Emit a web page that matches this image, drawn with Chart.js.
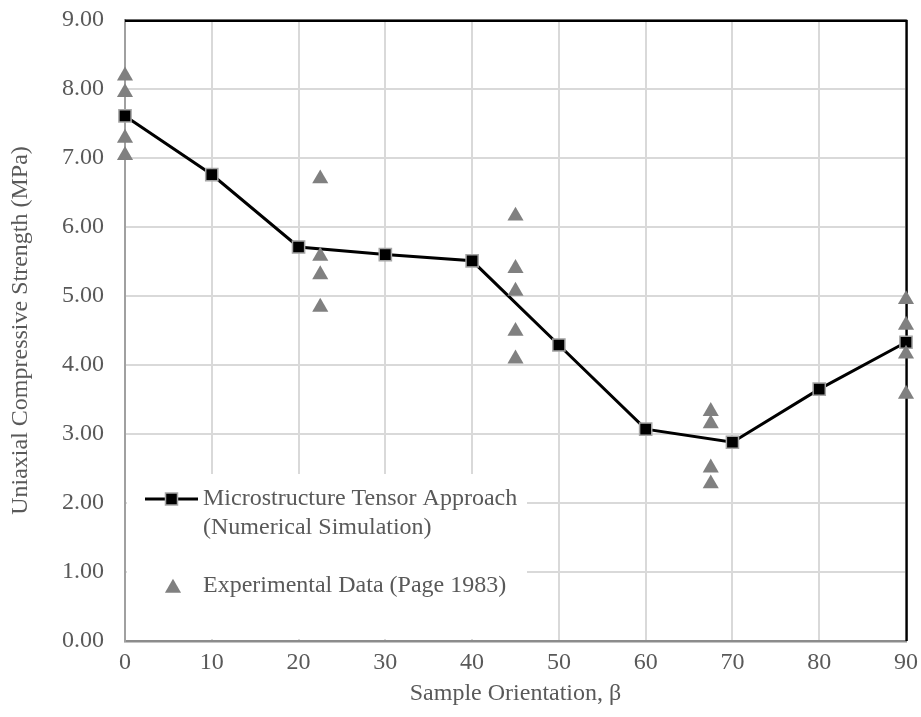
<!DOCTYPE html>
<html>
<head>
<meta charset="utf-8">
<script src="https://cdn.jsdelivr.net/npm/chart.js@4.4.1/dist/chart.umd.min.js"></script>
<style>
  html, body { margin: 0; padding: 0; background: #ffffff; }
  canvas { display: block; }
</style>
</head>
<body>
<canvas id="chart" width="921" height="717"></canvas>
<script>
// Numerical simulation (microstructure tensor approach)
const orientations = [0, 10, 20, 30, 40, 50, 60, 70, 80, 90];
const tensorStrength = [7.61, 6.76, 5.71, 5.60, 5.51, 4.29, 3.07, 2.88, 3.65, 4.33];

// Laboratory measurements (Page 1983)
const expOrientation = [0, 0, 0, 0, 22.5, 22.5, 22.5, 22.5, 45, 45, 45, 45, 45, 67.5, 67.5, 67.5, 67.5, 90, 90, 90, 90];
const expStrength = [8.19, 7.95, 7.29, 7.04, 6.70, 5.58, 5.31, 4.84, 6.16, 5.40, 5.07, 4.49, 4.09, 3.33, 3.15, 2.51, 2.28, 4.95, 4.58, 4.16, 3.58];

// Axis ticks
const xTicks = [0, 10, 20, 30, 40, 50, 60, 70, 80, 90];
const yTicks = [0, 1, 2, 3, 4, 5, 6, 7, 8, 9];

// Legend entries
const seriesNames = ['Microstructure Tensor Approach (Numerical Simulation)', 'Experimental Data (Page 1983)'];
const legendLines = [['Microstructure Tensor Approach', '(Numerical Simulation)'], ['Experimental Data (Page 1983)']];

const FONT = "'Liberation Serif', 'Times New Roman', Times, serif";
const TEXT = '#595959';
const GRID = '#d9d9d9';

const tensorPoints = orientations.map((x, i) => ({ x, y: tensorStrength[i] }));
const expPoints = expOrientation.map((x, i) => ({ x, y: expStrength[i] }));

// Black frame on the top and right edges of the plot
const framePlugin = {
  id: 'frame',
  beforeDatasetsDraw(chart) {
    const { ctx, chartArea: a } = chart;
    ctx.save();
    ctx.strokeStyle = '#000000';
    ctx.lineWidth = 2.4;
    ctx.beginPath();
    ctx.moveTo(a.left, a.top + 0.8);
    ctx.lineTo(a.right + 1.2, a.top + 0.8);
    ctx.moveTo(a.right + 0.6, a.top);
    ctx.lineTo(a.right + 0.6, a.bottom);
    ctx.stroke();
    ctx.restore();
  }
};

// Legend drawn inside the lower-left corner of the plot
const insideLegend = {
  id: 'insideLegend',
  afterDatasetsDraw(chart) {
    const { ctx, chartArea: a } = chart;
    const line = chart.data.datasets[1];
    const exp = chart.data.datasets[0];
    const bx = a.left + 2, by = a.bottom - 167, bw = 400, bh = 165;
    ctx.save();
    ctx.fillStyle = '#ffffff';
    ctx.fillRect(bx, by, bw, bh);

    const y1 = by + 25;
    const y2 = by + 54;
    const y3 = by + 112;
    const tx = a.left + 78;

    // line + square sample
    ctx.strokeStyle = line.borderColor;
    ctx.lineWidth = line.borderWidth;
    ctx.beginPath();
    ctx.moveTo(a.left + 20, y1);
    ctx.lineTo(a.left + 73, y1);
    ctx.stroke();
    const s = 6;
    ctx.fillStyle = line.pointBackgroundColor;
    ctx.fillRect(a.left + 46.5 - s, y1 - s, 2 * s, 2 * s);
    ctx.strokeStyle = line.pointBorderColor;
    ctx.lineWidth = line.pointBorderWidth;
    ctx.strokeRect(a.left + 46.5 - s, y1 - s, 2 * s, 2 * s);

    // triangle sample
    const r = exp.pointRadius;
    const cx = a.left + 48, cy = y3 + 2;
    ctx.fillStyle = exp.pointBackgroundColor;
    ctx.beginPath();
    for (let k = 0; k < 3; k++) {
      const ang = k * 2 * Math.PI / 3;
      const px = cx + Math.sin(ang) * r, py = cy - Math.cos(ang) * r;
      if (k === 0) ctx.moveTo(px, py); else ctx.lineTo(px, py);
    }
    ctx.closePath();
    ctx.fill();

    ctx.fillStyle = TEXT;
    ctx.font = '24px ' + FONT;
    ctx.textBaseline = 'middle';
    ctx.textAlign = 'left';
    ctx.fillText(legendLines[0][0], tx, y1);
    ctx.fillText(legendLines[0][1], tx, y2);
    ctx.fillText(legendLines[1][0], tx, y3);
    ctx.restore();
  }
};

new Chart(document.getElementById('chart'), {
  type: 'scatter',
  data: {
    datasets: [
      {
        label: seriesNames[1],
        data: expPoints,
        pointStyle: 'triangle',
        pointRadius: 9.3,
        pointHoverRadius: 9.3,
        pointBackgroundColor: '#808080',
        pointBorderWidth: 0,
        showLine: false,
        clip: false,
        order: 1
      },
      {
        label: seriesNames[0],
        data: tensorPoints,
        showLine: true,
        borderColor: '#000000',
        borderWidth: 3,
        pointStyle: 'rect',
        pointRadius: 8.6,
        pointHoverRadius: 8.6,
        pointBackgroundColor: '#000000',
        pointBorderColor: '#a6a6a6',
        pointBorderWidth: 1.5,
        clip: false,
        order: 2
      }
    ]
  },
  options: {
    responsive: false,
    devicePixelRatio: 1,
    animation: false,
    layout: { padding: { top: 20, right: 15, left: 0, bottom: 0 } },
    plugins: {
      legend: { display: false },
      tooltip: { enabled: false }
    },
    scales: {
      x: {
        type: 'linear',
        min: 0,
        max: 90,
        afterBuildTicks: (scale) => { scale.ticks = xTicks.map(v => ({ value: v })); },
        afterFit: (scale) => {
          scale.height = 76;
          scale.paddingLeft = 0;
          scale.paddingRight = 0;
        },
        grid: { color: GRID, lineWidth: 2, drawTicks: false },
        border: { display: true, color: '#8c8c8c', width: 2.5 },
        ticks: {
          padding: 7,
          color: TEXT,
          font: { family: FONT, size: 24 },
          maxRotation: 0,
          callback: (v) => String(v)
        },
        title: {
          display: true,
          text: 'Sample Orientation, β',
          color: TEXT,
          font: { family: FONT, size: 24 },
          padding: { top: 0, bottom: 9 }
        }
      },
      y: {
        type: 'linear',
        min: 0,
        max: 9,
        afterBuildTicks: (scale) => { scale.ticks = yTicks.map(v => ({ value: v })); },
        afterFit: (scale) => {
          scale.width = 125;
          scale.paddingTop = 0;
          scale.paddingBottom = 0;
        },
        grid: { color: GRID, lineWidth: 2, drawTicks: false },
        border: { display: true, color: '#a0a0a0', width: 2 },
        ticks: {
          padding: 21,
          color: TEXT,
          font: { family: FONT, size: 24 },
          callback: (v) => Number(v).toFixed(2)
        },
        title: {
          display: true,
          text: 'Uniaxial Compressive Strength (MPa)',
          color: TEXT,
          font: { family: FONT, size: 24 },
          padding: { top: 6, bottom: 0 }
        }
      }
    }
  },
  plugins: [framePlugin, insideLegend]
});
</script>
</body>
</html>
